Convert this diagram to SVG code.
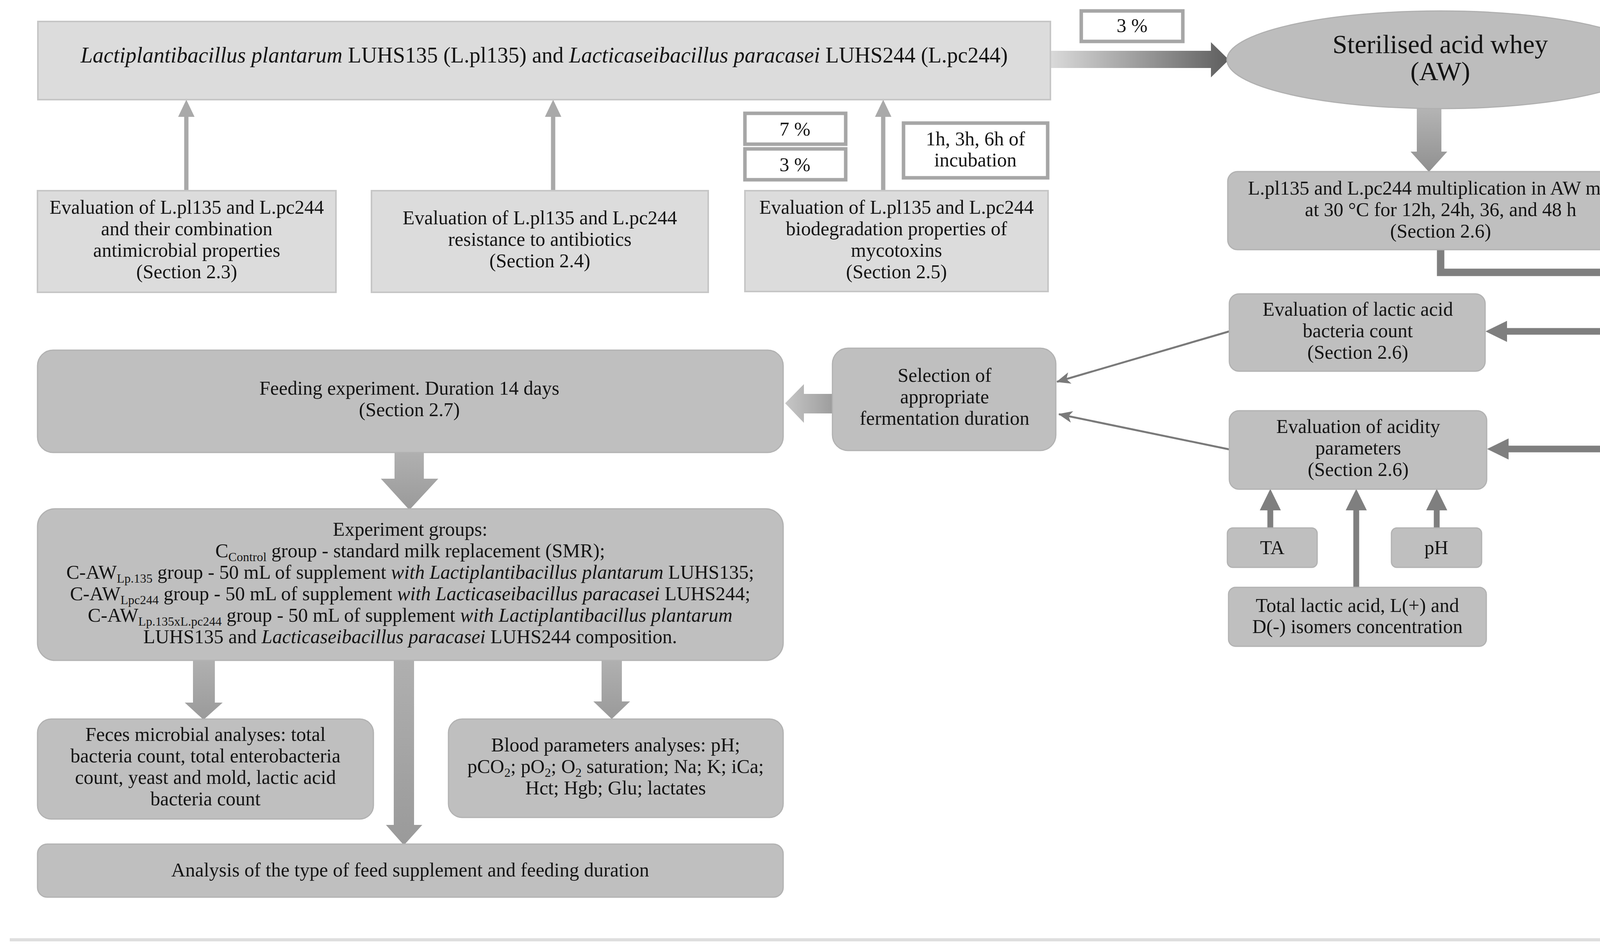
<svg xmlns="http://www.w3.org/2000/svg" width="4324" height="2426" viewBox="0 0 4324 2426">
<style>
.t{font-family:"Liberation Serif","Times New Roman",serif;font-size:50px;fill:#141414;text-anchor:middle}
.big{font-size:56px}
.ell{font-size:68px}
.i{font-style:italic}
.sub{font-size:32px}
.light{fill:#dcdcdc;stroke:#c6c6c6;stroke-width:4}
.mid{fill:#bfbfbf;stroke:#b2b2b2;stroke-width:3}
.pct{fill:#ffffff;stroke:#a6a6a6;stroke-width:9}
.lline{stroke:#a9a9a9;stroke-width:11;fill:none}
.dline{stroke:#7f7f7f;stroke-width:19;fill:none}
.dbr{stroke:#7f7f7f;stroke-width:17;fill:none}
.dup{stroke:#7f7f7f;stroke-width:15;fill:none}
.thin{stroke:#7a7a7a;stroke-width:5;fill:none}
</style>
<defs>
<marker id="headLight" markerUnits="userSpaceOnUse" viewBox="0 -22 44 44" refX="0" refY="0" markerWidth="44" markerHeight="44" orient="auto"><path d="M0,-21 L44,0 L0,21 Z" fill="#a9a9a9"/></marker>
<marker id="headDark" markerUnits="userSpaceOnUse" viewBox="0 -28 56 56" refX="0" refY="0" markerWidth="56" markerHeight="56" orient="auto"><path d="M0,-27 L55,0 L0,27 Z" fill="#7f7f7f"/></marker>
<marker id="stealth" markerUnits="userSpaceOnUse" viewBox="-40 -20 44 40" refX="0" refY="0" markerWidth="44" markerHeight="40" orient="auto"><path d="M2,0 L-34,-15 L-25,0 L-34,15 Z" fill="#7a7a7a"/></marker>
<linearGradient id="gTop" gradientUnits="userSpaceOnUse" x1="2689" y1="0" x2="3146" y2="0"><stop offset="0" stop-color="#dadada"/><stop offset="1" stop-color="#5e5e5e"/></linearGradient>
<linearGradient id="gDown" x1="0" y1="0" x2="0" y2="1"><stop offset="0" stop-color="#b4b4b4"/><stop offset="1" stop-color="#909090"/></linearGradient>
<linearGradient id="gLeft" x1="0" y1="0" x2="1" y2="0"><stop offset="0" stop-color="#c6c6c6"/><stop offset="1" stop-color="#9c9c9c"/></linearGradient>
<linearGradient id="gMid" x1="0" y1="0" x2="0" y2="1"><stop offset="0" stop-color="#b0b0b0"/><stop offset="1" stop-color="#9a9a9a"/></linearGradient>
</defs>

<g id="connectors">
<polygon points="2689,130 3100,130 3100,108 3146,153 3100,198 3100,174 2689,174" fill="url(#gTop)"/>
<polygon points="3627,278 3690,278 3690,388 3705,388 3658,440 3611,388 3627,388" fill="url(#gDown)"/>
<polygon points="2135,1008 2058,1008 2058,983 2010,1032 2058,1082 2058,1058 2135,1058" fill="url(#gLeft)"/>
<polygon points="1010,1158 1085,1158 1085,1225 1122,1225 1048,1305 975,1225 1010,1225" fill="url(#gMid)"/>
<polygon points="494,1690 550,1690 550,1798 570,1798 521,1842 473,1798 494,1798" fill="url(#gMid)"/>
<polygon points="1008,1680 1060,1680 1060,2111 1081,2111 1034,2163 988,2111 1008,2111" fill="url(#gMid)"/>
<polygon points="1540,1690 1592,1690 1592,1795 1613,1795 1566,1840 1519,1795 1540,1795" fill="url(#gMid)"/>
<line class="lline" x1="477" y1="488" x2="477" y2="299" marker-end="url(#headLight)"/>
<line class="lline" x1="1416" y1="488" x2="1416" y2="299" marker-end="url(#headLight)"/>
<line class="lline" x1="2261" y1="488" x2="2261" y2="299" marker-end="url(#headLight)"/>
<polyline class="dline" points="3688,640 3688,697 4219,697 4219,1158"/>
<line class="dbr" x1="4219" y1="848" x2="3858" y2="848" marker-end="url(#headDark)"/>
<line class="dbr" x1="4228" y1="1149" x2="3862" y2="1149" marker-end="url(#headDark)"/>
<line class="thin" x1="3147" y1="848" x2="2706" y2="977" marker-end="url(#stealth)"/>
<line class="thin" x1="3147" y1="1150" x2="2711" y2="1060" marker-end="url(#stealth)"/>
<line class="dup" x1="3252" y1="1351" x2="3252" y2="1306" marker-end="url(#headDark)"/>
<line class="dup" x1="3472" y1="1503" x2="3472" y2="1306" marker-end="url(#headDark)"/>
<line class="dup" x1="3678" y1="1351" x2="3678" y2="1306" marker-end="url(#headDark)"/>
<line x1="25" y1="2405" x2="4324" y2="2405" stroke="#dedede" stroke-width="8"/>
</g>

<g id="n-strains">
<rect class="light" x="97" y="55" width="2592" height="200"/>
<text class="t big" x="1393" y="160"><tspan class="i">Lactiplantibacillus plantarum</tspan> LUHS135 (L.pl135) and <tspan class="i">Lacticaseibacillus paracasei</tspan> LUHS244 (L.pc244)</text>
</g>
<g id="n-pct-top">
<rect class="pct" x="2768" y="28" width="260" height="78"/>
<text class="t" x="2898" y="82">3 %</text>
</g>
<g id="n-aw">
<ellipse cx="3687" cy="153" rx="546" ry="125" fill="#bdbdbd" stroke="#b0b0b0" stroke-width="3"/>
<text class="t ell" x="3687" y="136">Sterilised acid whey</text>
<text class="t ell" x="3687" y="205">(AW)</text>
</g>
<g id="n-antimicrobial">
<rect class="light" x="96" y="488" width="764" height="260"/>
<text class="t" x="478" y="547">Evaluation of L.pl135 and L.pc244</text>
<text class="t" x="478" y="602">and their combination</text>
<text class="t" x="478" y="657">antimicrobial properties</text>
<text class="t" x="478" y="712">(Section 2.3)</text>
</g>
<g id="n-antibiotics">
<rect class="light" x="951" y="488" width="862" height="260"/>
<text class="t" x="1382" y="574">Evaluation of L.pl135 and L.pc244</text>
<text class="t" x="1382" y="629">resistance to antibiotics</text>
<text class="t" x="1382" y="684">(Section 2.4)</text>
</g>
<g id="n-mycotoxins">
<rect class="light" x="1907" y="488" width="776" height="258"/>
<text class="t" x="2295" y="547">Evaluation of L.pl135 and L.pc244</text>
<text class="t" x="2295" y="602">biodegradation properties of</text>
<text class="t" x="2295" y="657">mycotoxins</text>
<text class="t" x="2295" y="712">(Section 2.5)</text>
</g>
<g id="n-pct7">
<rect class="pct" x="1907" y="290" width="258" height="79"/>
<text class="t" x="2035" y="347">7 %</text>
</g>
<g id="n-pct3">
<rect class="pct" x="1907" y="381" width="258" height="79"/>
<text class="t" x="2035" y="438">3 %</text>
</g>
<g id="n-incubation">
<rect class="pct" x="2313" y="315" width="369" height="140"/>
<text class="t" x="2497" y="372">1h, 3h, 6h of</text>
<text class="t" x="2497" y="426">incubation</text>
</g>
<g id="n-multiplication">
<rect class="mid" x="3143" y="439" width="1088" height="200" rx="25"/>
<text class="t" x="3688" y="498">L.pl135 and L.pc244 multiplication in AW media</text>
<text class="t" x="3688" y="553">at 30 °C for 12h, 24h, 36, and 48 h</text>
<text class="t" x="3688" y="608">(Section 2.6)</text>
</g>
<g id="n-lab-count">
<rect class="mid" x="3147" y="752" width="655" height="198" rx="25"/>
<text class="t" x="3476" y="808">Evaluation of lactic acid</text>
<text class="t" x="3476" y="863">bacteria count</text>
<text class="t" x="3476" y="918">(Section 2.6)</text>
</g>
<g id="n-acidity">
<rect class="mid" x="3147" y="1051" width="659" height="201" rx="25"/>
<text class="t" x="3477" y="1108">Evaluation of acidity</text>
<text class="t" x="3477" y="1163">parameters</text>
<text class="t" x="3477" y="1218">(Section 2.6)</text>
</g>
<g id="n-selection">
<rect class="mid" x="2131" y="891" width="572" height="262" rx="40"/>
<text class="t" x="2418" y="977">Selection of</text>
<text class="t" x="2418" y="1032">appropriate</text>
<text class="t" x="2418" y="1087">fermentation duration</text>
</g>
<g id="n-ta">
<rect class="mid" x="3142" y="1351" width="230" height="101" rx="14"/>
<text class="t" x="3257" y="1418">TA</text>
</g>
<g id="n-ph">
<rect class="mid" x="3562" y="1351" width="231" height="101" rx="14"/>
<text class="t" x="3677" y="1418">pH</text>
</g>
<g id="n-lactic-total">
<rect class="mid" x="3145" y="1503" width="660" height="151" rx="18"/>
<text class="t" x="3475" y="1566">Total lactic acid, L(+) and</text>
<text class="t" x="3475" y="1620">D(-)  isomers concentration</text>
</g>
<g id="n-feeding">
<rect class="mid" x="96" y="896" width="1909" height="262" rx="40"/>
<text class="t" x="1048" y="1010">Feeding experiment. Duration 14 days</text>
<text class="t" x="1048" y="1065">(Section 2.7)</text>
</g>
<g id="n-groups">
<rect class="mid" x="96" y="1302" width="1909" height="388" rx="45"/>
<text class="t" x="1050" y="1371">Experiment groups:</text>
<text class="t" x="1050" y="1426">C<tspan class="sub" dy="10">Control</tspan><tspan dy="-10"> group - standard milk replacement (SMR);</tspan></text>
<text class="t" x="1050" y="1481">C-AW<tspan class="sub" dy="10">Lp.135</tspan><tspan dy="-10"> group -  50 mL of supplement </tspan><tspan class="i">with Lactiplantibacillus plantarum</tspan> LUHS135;</text>
<text class="t" x="1050" y="1536">C-AW<tspan class="sub" dy="10">Lpc244</tspan><tspan dy="-10"> group -  50 mL of supplement </tspan><tspan class="i">with Lacticaseibacillus paracasei</tspan> LUHS244;</text>
<text class="t" x="1050" y="1591">C-AW<tspan class="sub" dy="10">Lp.135xL.pc244</tspan><tspan dy="-10"> group -  50 mL of supplement </tspan><tspan class="i">with Lactiplantibacillus plantarum</tspan></text>
<text class="t" x="1050" y="1646">LUHS135 and <tspan class="i">Lacticaseibacillus paracasei</tspan> LUHS244 composition.</text>
</g>
<g id="n-feces">
<rect class="mid" x="96" y="1840" width="860" height="256" rx="35"/>
<text class="t" x="526" y="1896">Feces microbial analyses: total</text>
<text class="t" x="526" y="1951">bacteria count, total enterobacteria</text>
<text class="t" x="526" y="2006">count, yeast and mold, lactic acid</text>
<text class="t" x="526" y="2061">bacteria count</text>
</g>
<g id="n-blood">
<rect class="mid" x="1148" y="1840" width="857" height="252" rx="35"/>
<text class="t" x="1576" y="1923">Blood parameters analyses: pH;</text>
<text class="t" x="1576" y="1978">pCO<tspan class="sub" dy="10">2</tspan><tspan dy="-10">; pO</tspan><tspan class="sub" dy="10">2</tspan><tspan dy="-10">; O</tspan><tspan class="sub" dy="10">2</tspan><tspan dy="-10"> saturation; Na; K; iCa;</tspan></text>
<text class="t" x="1576" y="2033">Hct; Hgb; Glu; lactates</text>
</g>
<g id="n-analysis">
<rect class="mid" x="96" y="2160" width="1909" height="136" rx="25"/>
<text class="t" x="1050" y="2243">Analysis of the type of feed supplement and feeding duration</text>
</g>
</svg>
